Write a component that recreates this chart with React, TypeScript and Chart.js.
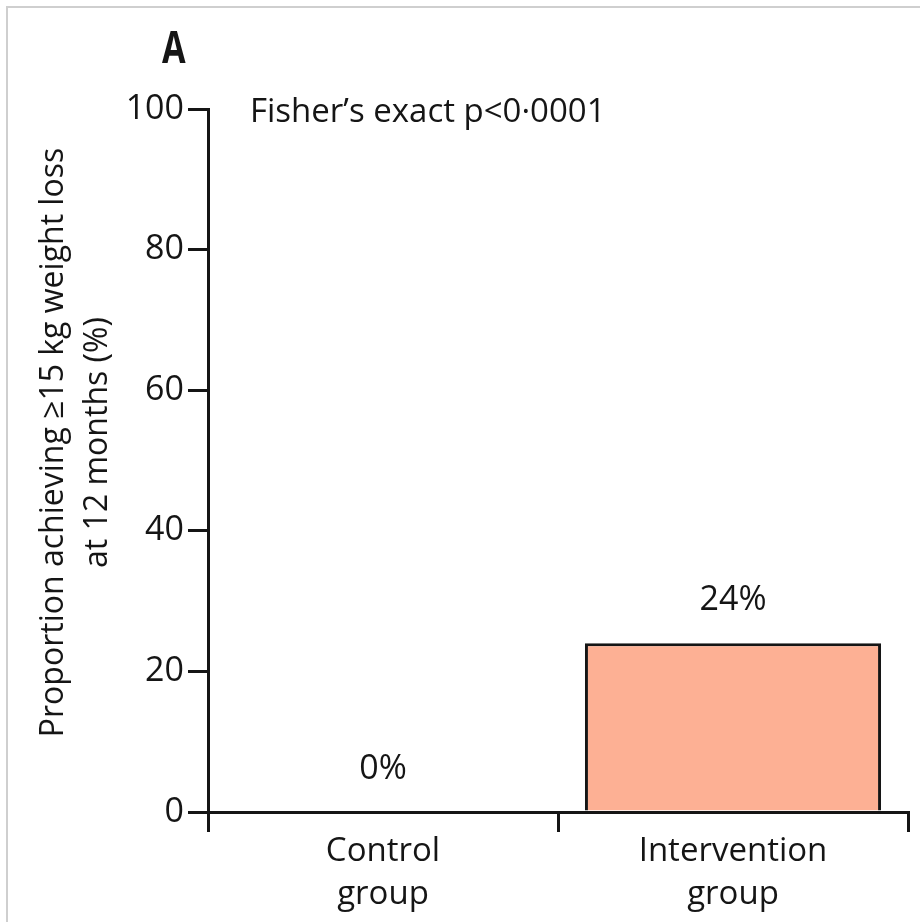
import { useEffect, useRef } from "react";
import { Chart, registerables } from "chart.js";
import type { Plugin } from "chart.js";

Chart.register(...registerables);

// Study arms (multi-line category labels)
const groupLabels: string[][] = [
  ["Control", "group"],
  ["Intervention", "group"],
];
// Share of participants with >=15 kg weight loss at 12 months (%)
const proportionAchieving: number[] = [0, 24];
// Y axis tick values (%)
const yTickValues: number[] = [0, 20, 40, 60, 80, 100];
const yAxisTitle: string[] = [
  "Proportion achieving ≥15 kg weight loss",
  "at 12 months (%)",
];
const panelLabel = "A";
const testAnnotation = "Fisher’s exact p<0·0001";

const FONT = "'Open Sans', 'DejaVu Sans', sans-serif";
const INK = "#151515";
const BAR_FILL = "#FDB094";

// Frame, panel letter, test note, rotated axis title and value labels
const decorations: Plugin<"bar"> = {
  id: "decorations",
  beforeDraw(chart) {
    const { ctx, width, height } = chart;
    ctx.save();
    ctx.fillStyle = "#ffffff";
    ctx.fillRect(0, 0, width, height);
    ctx.strokeStyle = "#cfcfcf";
    ctx.lineWidth = 2;
    ctx.beginPath();
    ctx.moveTo(7, height);
    ctx.lineTo(7, 7);
    ctx.lineTo(width, 7);
    ctx.stroke();
    ctx.restore();
  },
  afterDraw(chart) {
    const { ctx, chartArea } = chart;
    const yScale = chart.scales.y;
    ctx.save();
    ctx.fillStyle = INK;

    // panel letter (tall, condensed bold)
    ctx.save();
    ctx.translate(chartArea.left - 46, chartArea.top - 46);
    ctx.scale(0.76, 1);
    ctx.font = `bold 45px ${FONT}`;
    ctx.textAlign = "left";
    ctx.textBaseline = "alphabetic";
    ctx.fillText(panelLabel, 0, 0);
    ctx.restore();

    // statistical test note
    ctx.font = `33px ${FONT}`;
    ctx.textAlign = "left";
    ctx.textBaseline = "alphabetic";
    ctx.fillText(testAnnotation, chartArea.left + 42, chartArea.top + 13);

    // y axis title, two rotated lines
    ctx.font = `32px ${FONT}`;
    const cy = (yScale.top + yScale.bottom) / 2 - 18;
    yAxisTitle.forEach((line, i) => {
      ctx.save();
      ctx.translate(chartArea.left - 145 + i * 44, cy);
      ctx.rotate(-Math.PI / 2);
      ctx.textAlign = "center";
      ctx.textBaseline = "alphabetic";
      ctx.fillText(line, 0, 0);
      ctx.restore();
    });

    // value labels above bars
    ctx.font = `34px ${FONT}`;
    const meta = chart.getDatasetMeta(0);
    ctx.textAlign = "center";
    meta.data.forEach((bar, i) => {
      ctx.fillText(`${proportionAchieving[i]}%`, bar.x, bar.y - 33);
    });
    ctx.restore();
  },
};

export default function App() {
  const canvasRef = useRef<HTMLCanvasElement | null>(null);

  useEffect(() => {
    const canvas = canvasRef.current;
    if (!canvas) return;
    const chart = new Chart(canvas, {
      type: "bar",
      data: {
        labels: groupLabels,
        datasets: [
          {
            data: proportionAchieving,
            backgroundColor: BAR_FILL,
            borderColor: INK,
            borderWidth: 3,
            barPercentage: 0.846,
            categoryPercentage: 1,
          },
        ],
      },
      options: {
        responsive: false,
        animation: false,
        devicePixelRatio: 1,
        layout: { padding: { top: 109, right: 12, left: 0, bottom: 0 } },
        plugins: {
          legend: { display: false },
          tooltip: { enabled: false },
          title: { display: false },
        },
        scales: {
          x: {
            type: "category",
            offset: true,
            grid: {
              offset: true,
              drawOnChartArea: false,
              drawTicks: true,
              tickLength: 20,
              color: INK,
              lineWidth: 3,
            },
            border: { display: true, color: INK, width: 3 },
            ticks: {
              color: INK,
              font: { family: FONT, size: 33, lineHeight: 1.3 },
              padding: -2,
              maxRotation: 0,
              autoSkip: false,
            },
            afterFit(scale) {
              scale.height = 110;
            },
          },
          y: {
            min: yTickValues[0],
            max: yTickValues[yTickValues.length - 1],
            ticks: {
              stepSize: yTickValues[1] - yTickValues[0],
              color: INK,
              font: { family: FONT, size: 34 },
              padding: 4,
            },
            grid: {
              drawOnChartArea: false,
              drawTicks: true,
              tickLength: 20,
              color: INK,
              lineWidth: 3,
            },
            border: { display: true, color: INK, width: 3 },
            afterFit(scale) {
              scale.width = 208;
            },
          },
        },
      },
      plugins: [decorations],
    });
    return () => chart.destroy();
  }, []);

  return (
    <div style={{ position: "absolute", left: 0, top: 0, width: 920, height: 922 }}>
      <canvas ref={canvasRef} width={920} height={922} style={{ display: "block" }} />
    </div>
  );
}
